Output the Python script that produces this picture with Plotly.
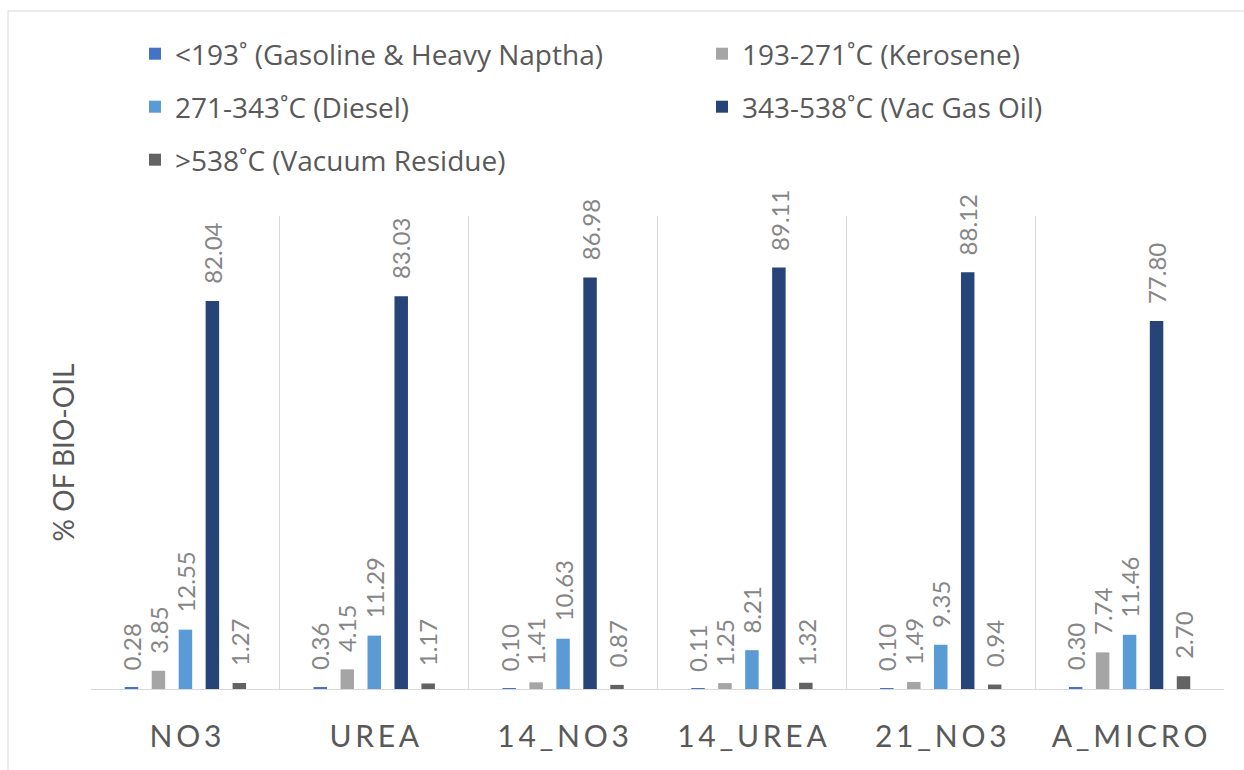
import plotly.graph_objects as go

# Samples and boiling-range fractions of the bio-oil (% of bio-oil)
categories = ["NO3", "UREA", "14_NO3", "14_UREA", "21_NO3", "A_MICRO"]
series_names = [
    "<193˚ (Gasoline & Heavy Naptha)",
    "193-271˚C (Kerosene)",
    "271-343˚C (Diesel)",
    "343-538˚C (Vac Gas Oil)",
    ">538˚C (Vacuum Residue)",
]
gasoline = [0.28, 0.36, 0.10, 0.11, 0.10, 0.30]
kerosene = [3.85, 4.15, 1.41, 1.25, 1.49, 7.74]
diesel = [12.55, 11.29, 10.63, 8.21, 9.35, 11.46]
vac_gas_oil = [82.04, 83.03, 86.98, 89.11, 88.12, 77.80]
vac_residue = [1.27, 1.17, 0.87, 1.32, 0.94, 2.70]

series_values = [gasoline, kerosene, diesel, vac_gas_oil, vac_residue]
colors = ["#4472C4", "#A5A5A5", "#5B9BD5", "#264478", "#636363"]

FONT = "Lato, 'Open Sans', 'DejaVu Sans', sans-serif"
LEGEND_FONT = "'Open Sans', Lato, 'DejaVu Sans', sans-serif"
W, H = 1244, 770
L, R, T, B = 91, 20, 216, 81
PW, PH = W - L - R, H - T - B

# spaced-out category labels
def spaced(s):
    return "\u2009".join(list(s))

fig = go.Figure()
legend_ids = ["legend", "legend2", "legend3", "legend4", "legend5"]
for i, (name, vals, col) in enumerate(zip(series_names, series_values, colors)):
    fig.add_trace(go.Bar(
        x=categories, y=vals, name=name,
        marker=dict(color=col, line=dict(width=0)),
        legend=legend_ids[i],
    ))

# rotated value labels above each bar
pitch = 27
annotations = []
for i, vals in enumerate(series_values):
    for c, v in zip(categories, vals):
        annotations.append(dict(
            x=c, y=v, xref="x", yref="y",
            text=f"{v:.2f}", showarrow=False, textangle=-90,
            xanchor="center", yanchor="bottom",
            xshift=(i - 2) * pitch, yshift=15,
            font=dict(family=FONT, size=24, color="#868686"),
        ))

# legend grid: two columns, three rows
col_x = [135, 702]
row_y = [54, 107, 160]
legend_layouts = {}
for i, lid in enumerate(legend_ids):
    cx = col_x[i % 2]
    cy = row_y[i // 2]
    legend_layouts[lid] = dict(
        x=(cx - L) / PW, xanchor="left", xref="paper",
        y=(H - B - cy) / PH, yanchor="middle", yref="paper",
        bgcolor="rgba(0,0,0,0)", borderwidth=0,
        font=dict(family=LEGEND_FONT, size=28, color="#595959"),
        orientation="h",
    )

fig.update_layout(
    width=W, height=H,
    margin=dict(l=L, r=R, t=T, b=B, autoexpand=False),
    paper_bgcolor="white", plot_bgcolor="white",
    barmode="group", bargap=0.286, bargroupgap=0.5,
    showlegend=True,
    annotations=annotations,
    xaxis=dict(
        type="category",
        tickmode="array", tickvals=categories,
        ticktext=[spaced(c) for c in categories],
        tickson="boundaries", showgrid=True, gridcolor="#D9D9D9", gridwidth=1,
        showline=True, linecolor="#D9D9D9", linewidth=1,
        ticks="", ticklabelstandoff=21,
        tickfont=dict(family=FONT, size=30, color="#595959"),
        zeroline=False, fixedrange=True,
    ),
    yaxis=dict(
        range=[0, 100], showgrid=False, zeroline=False,
        showticklabels=False, ticks="", showline=False,
        title=dict(text="% OF BIO-OIL", standoff=7,
                   font=dict(family=FONT, size=28, color="#595959")),
    ),
    shapes=[dict(
        type="rect", xref="paper", yref="paper",
        x0=(8 - L) / PW, x1=(1260 - L) / PW,
        y0=(H - B - 790) / PH, y1=(H - B - 11) / PH,
        line=dict(color="#D9D9D9", width=1), fillcolor="rgba(0,0,0,0)",
        layer="below",
    )],
    **legend_layouts,
)

fig.write_html("out.html")
